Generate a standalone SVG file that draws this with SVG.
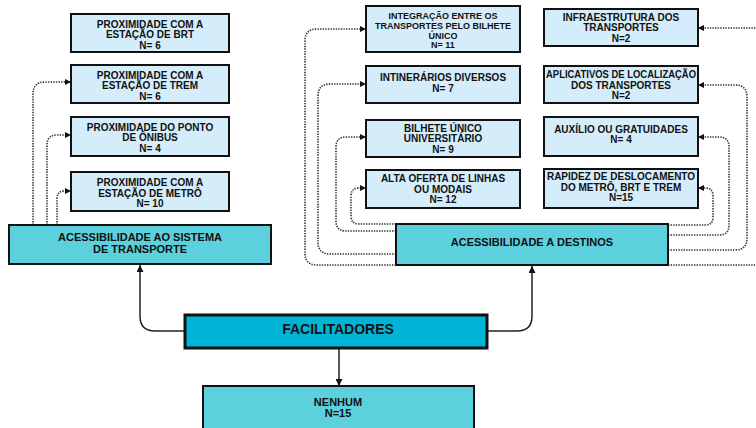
<svg xmlns="http://www.w3.org/2000/svg" width="756" height="428" viewBox="0 0 756 428">
<defs>
<style>
.lb{fill:#D5EDFB;stroke:#111;stroke-width:2}
.cb{fill:#5DD0DE;stroke:#111;stroke-width:2}
.fb{fill:#00B4D6;stroke:#111;stroke-width:3}
text{font-family:"Liberation Sans",Arial,sans-serif;font-weight:bold;fill:#111;text-anchor:middle;font-size:10px}
.t11{font-size:11px}
.t9{font-size:9px}
.dot{fill:none;stroke:#333;stroke-width:1.6;stroke-dasharray:1.4 1.2;marker-end:url(#ah)}
.sol{fill:none;stroke:#222;stroke-width:1.5;marker-end:url(#ah2)}
</style>
<marker id="ah" viewBox="0 0 6 6" refX="6" refY="3" markerWidth="6" markerHeight="6" markerUnits="userSpaceOnUse" orient="auto"><path d="M0,0 L6,3 L0,6 Z" fill="#111"/></marker>
<marker id="ah2" viewBox="0 0 6 6" refX="6" refY="3" markerWidth="7" markerHeight="7" markerUnits="userSpaceOnUse" orient="auto"><path d="M0,0 L6,3 L0,6 Z" fill="#111"/></marker>
</defs>
<rect width="756" height="428" fill="#fff"/>

<g id="connectors">
<path class="dot" d="M33,225 V94 Q33,82 45,82 H71"/>
<path class="dot" d="M47,225 V145 Q47,135 57,135 H71"/>
<path class="dot" d="M57,225 V199 Q57,191 64,191 H71"/>
<path class="dot" d="M396,265 H317 Q305,265 305,253 V41 Q305,29 317,29 H366"/>
<path class="dot" d="M396,254 H330 Q318,254 318,242 V96 Q318,84 330,84 H366"/>
<path class="dot" d="M396,231 H346 Q336,231 336,221 V147 Q336,137 346,137 H366"/>
<path class="dot" d="M396,224 H359 Q351,224 351,216 V196 Q351,188 359,188 H366"/>
<path class="dot" d="M668,225 H705 Q713,225 713,217 V196 Q713,188 705,188 H698"/>
<path class="dot" d="M668,235 H719 Q729,235 729,225 V147 Q729,137 719,137 H698"/>
<path class="dot" d="M668,250 H735 Q747,250 747,238 V97 Q747,85 735,85 H698"/>
<path class="dot" d="M668,265 H770 V28 H698"/>
<path class="sol" d="M184,331 H155 Q140,331 140,316 V265"/>
<path class="sol" d="M488,331 H517 Q532,331 532,316 V266"/>
<path class="sol" d="M339,348 V386"/>
</g>

<g id="n-brt"><rect class="lb" x="71" y="14" width="158" height="38"/>
<text x="150" y="27.5">PROXIMIDADE COM A</text><text x="150" y="38">ESTAÇÃO DE BRT</text><text x="150" y="48.5">N= 6</text></g>
<g id="n-trem"><rect class="lb" x="71" y="65" width="158" height="38"/>
<text x="150" y="78.5">PROXIMIDADE COM A</text><text x="150" y="89">ESTAÇÃO DE TREM</text><text x="150" y="99.5">N= 6</text></g>
<g id="n-onibus"><rect class="lb" x="71" y="117" width="158" height="39"/>
<text x="150" y="130.5">PROXIMIDADE DO PONTO</text><text x="150" y="141">DE ÔNIBUS</text><text x="150" y="151.5">N= 4</text></g>
<g id="n-metro"><rect class="lb" x="71" y="172" width="158" height="39"/>
<text x="150" y="186">PROXIMIDADE COM A</text><text x="150" y="196.5">ESTAÇÃO DE METRÔ</text><text x="150" y="207">N= 10</text></g>
<g id="n-sistema"><rect class="cb" x="9" y="225" width="262" height="39"/>
<text class="t11" x="140" y="240.5">ACESSIBILIDADE AO SISTEMA</text><text class="t11" x="140" y="252.5">DE TRANSPORTE</text></g>

<g id="n-integracao"><rect class="lb" x="366" y="6" width="154" height="46"/>
<text class="t9" x="443" y="18.5">INTEGRAÇÃO ENTRE OS</text><text class="t9" x="443" y="28.5">TRANSPORTES PELO BILHETE</text><text class="t9" x="443" y="38.5">ÚNICO</text><text class="t9" x="443" y="48">N= 11</text></g>
<g id="n-itinerarios"><rect class="lb" x="366" y="66" width="154" height="37"/>
<text x="443" y="80.5">INTINERÁRIOS DIVERSOS</text><text x="443" y="91.5">N= 7</text></g>
<g id="n-bilhete"><rect class="lb" x="366" y="120" width="154" height="37"/>
<text x="443" y="131.5">BILHETE ÚNICO</text><text x="443" y="142">UNIVERSITÁRIO</text><text x="443" y="152.5">N= 9</text></g>
<g id="n-alta"><rect class="lb" x="366" y="170" width="154" height="38"/>
<text x="443" y="182">ALTA OFERTA DE LINHAS</text><text x="443" y="192.5">OU MODAIS</text><text x="443" y="203">N= 12</text></g>

<g id="n-infra"><rect class="lb" x="544" y="9" width="154" height="37"/>
<text x="621" y="20.5">INFRAESTRUTURA DOS</text><text x="621" y="31">TRANSPORTES</text><text x="621" y="41.5">N=2</text></g>
<g id="n-aplicativos"><rect class="lb" x="544" y="66" width="154" height="37"/>
<text x="621" y="78" textLength="150" lengthAdjust="spacingAndGlyphs">APLICATIVOS DE LOCALIZAÇÃO</text><text x="621" y="88.5">DOS TRANSPORTES</text><text x="621" y="99">N=2</text></g>
<g id="n-auxilio"><rect class="lb" x="544" y="117" width="154" height="39"/>
<text x="621" y="132.5">AUXÍLIO OU GRATUIDADES</text><text x="621" y="143">N= 4</text></g>
<g id="n-rapidez"><rect class="lb" x="544" y="169" width="154" height="39"/>
<text x="621" y="180">RAPIDEZ DE DESLOCAMENTO</text><text x="621" y="190.5">DO METRÔ,  BRT E TREM</text><text x="621" y="201">N=15</text></g>
<g id="n-destinos"><rect class="cb" x="396" y="224" width="272" height="41"/>
<text class="t11" x="532" y="245.5">ACESSIBILIDADE A DESTINOS</text></g>

<g id="n-facilitadores"><rect class="fb" x="185" y="315" width="302" height="33"/>
<text x="338" y="334" style="font-size:14px">FACILITADORES</text></g>
<g id="n-nenhum"><rect class="cb" x="203" y="386" width="271" height="46"/>
<text class="t11" x="338" y="405.5">NENHUM</text><text class="t11" x="338" y="416.5">N=15</text></g>
</svg>
